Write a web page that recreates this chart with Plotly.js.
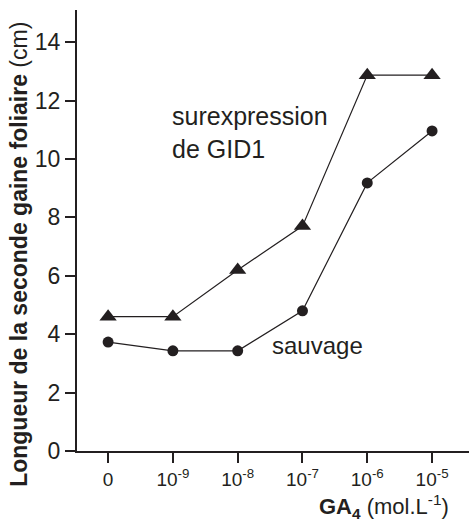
<!DOCTYPE html>
<html>
<head>
<meta charset="utf-8">
<script src="https://cdn.plot.ly/plotly-3.0.1.min.js"></script>
<style>html,body{margin:0;padding:0;background:#fff;}#chart{width:469px;height:525px;}</style>
</head>
<body>
<div id="chart"></div>
<script>
// Data
const categories = ['0', '1e-9', '1e-8', '1e-7', '1e-6', '1e-5'];
const tickLabels = ['0', '10<sup>-9</sup>', '10<sup>-8</sup>', '10<sup>-7</sup>', '10<sup>-6</sup>', '10<sup>-5</sup>'];
const surexpression = [4.6, 4.6, 6.2, 7.7, 12.87, 12.87];
const sauvage = [3.73, 3.43, 3.43, 4.8, 9.18, 10.96];
const yTicks = [0, 2, 4, 6, 8, 10, 12, 14];

const ink = '#231f20';
const font = 'Liberation Sans, Arial, Helvetica, sans-serif';

const traces = [
  {
    x: categories, y: surexpression, type: 'scatter', mode: 'lines+markers',
    line: {color: ink, width: 1.2},
    marker: {symbol: 'triangle-up', size: 15, color: ink},
    cliponaxis: false, hoverinfo: 'none'
  },
  {
    x: categories, y: sauvage, type: 'scatter', mode: 'lines+markers',
    line: {color: ink, width: 1.2},
    marker: {symbol: 'circle', size: 11, color: ink},
    cliponaxis: false, hoverinfo: 'none'
  }
];

const layout = {
  width: 469, height: 525,
  margin: {l: 77, r: 0, t: 10, b: 74},
  paper_bgcolor: '#fff', plot_bgcolor: '#fff',
  showlegend: false,
  font: {family: font, color: ink},
  xaxis: {
    type: 'category', range: [-0.48, 5.57],
    tickvals: categories, ticktext: tickLabels,
    showline: true, linecolor: ink, linewidth: 2,
    ticks: 'outside', ticklen: 10, tickwidth: 2, tickcolor: ink,
    showgrid: false, zeroline: false,
    tickfont: {size: 19, color: ink, family: font}
  },
  yaxis: {
    range: [0, 15.1],
    tickvals: yTicks,
    showline: true, linecolor: ink, linewidth: 2,
    ticks: 'outside', ticklen: 10, tickwidth: 2, tickcolor: ink,
    showgrid: false, zeroline: false,
    tickfont: {size: 23, color: ink, family: font}
  },
  annotations: [
    {
      xref: 'paper', yref: 'paper', x: -0.148, y: 0.447,
      text: '<b>Longueur de la seconde gaine foliaire</b> (cm)',
      textangle: -90, showarrow: false,
      xanchor: 'center', yanchor: 'middle',
      font: {size: 23, color: ink, family: font}
    },
    {
      xref: 'paper', yref: 'paper', x: 0.955, y: -0.125,
      text: '<b>GA<sub>4</sub></b> (mol.L<sup>-1</sup>)',
      showarrow: false, xanchor: 'right', yanchor: 'middle',
      font: {size: 22, color: ink, family: font}
    },
    {
      xref: 'x', yref: 'y', x: 0.96, y: 10.9,
      text: 'surexpression<br>de GID1', align: 'left',
      showarrow: false, xanchor: 'left', yanchor: 'middle',
      font: {size: 25, color: ink, family: font}
    },
    {
      xref: 'x', yref: 'y', x: 2.5, y: 3.6,
      text: 'sauvage',
      showarrow: false, xanchor: 'left', yanchor: 'middle',
      font: {size: 24, color: ink, family: font}
    }
  ]
};

Plotly.newPlot('chart', traces, layout, {staticPlot: true, displayModeBar: false});
</script>
</body>
</html>
